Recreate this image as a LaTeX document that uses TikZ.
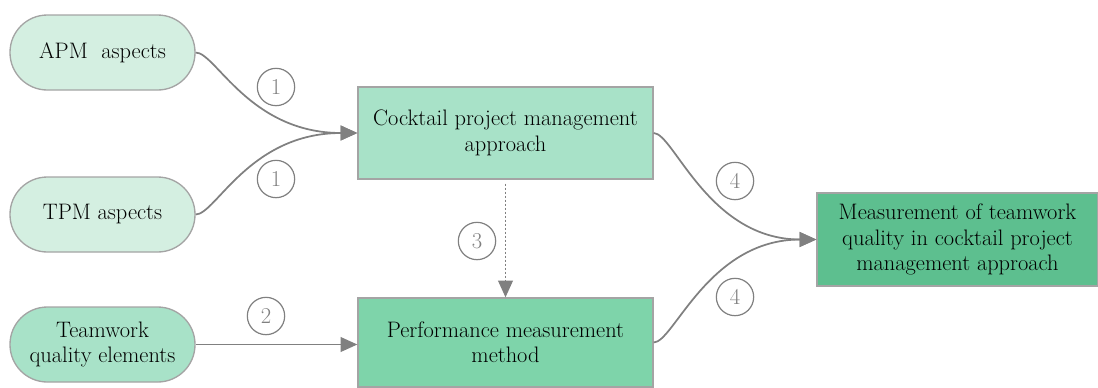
\documentclass[tikz,border=0pt]{standalone}
\usetikzlibrary{arrows.meta}
\definecolor{edge}{HTML}{A4A4A4}
\definecolor{wire}{HTML}{808080}
\definecolor{paleMint}{HTML}{D4EFE1}
\definecolor{softMint}{HTML}{A8E2C8}
\definecolor{midMint}{HTML}{7ED4AA}
\definecolor{deepMint}{HTML}{5DBF8F}
\begin{document}
\begin{tikzpicture}[x=0.75pt,y=-0.75pt,
  font=\fontsize{16.8}{19}\selectfont,
  pill/.style={draw=edge, line width=1pt, rounded corners=28pt,
    minimum width=138.75pt, minimum height=56.25pt, align=center, inner sep=1pt},
  box/.style={draw=edge, line width=1pt, minimum width=221.25pt,
    minimum height=69pt, align=center, inner sep=1pt},
  flow/.style={draw=wire, line width=1.3pt, -{Triangle[length=12.5pt,width=11pt]}},
  hint/.style={draw=wire, line width=1.2pt, dash pattern=on 1.6pt off 1.4pt,
    -{Triangle[length=12.5pt,width=11pt]}},
  num/.style={circle, draw=wire, line width=0.9pt, minimum size=28pt,
    inner sep=0pt, text=wire, font=\fontsize{17}{19}\selectfont}]
\useasboundingbox (0,0) rectangle (1098,387);

% source ovals
\node[pill, fill=paleMint] (apm) at (102.5,52.5) {APM~ aspects};
\node[pill, fill=paleMint] (tpm) at (102.5,214.5) {TPM aspects};
\node[pill, fill=softMint] (tq) at (102.5,344.5) {Teamwork\\quality elements};

% process boxes
\node[box, fill=softMint] (cpm) at (505.5,133) {Cocktail project management\\approach};
\node[box, fill=midMint, minimum height=66.75pt] (perf) at (505.5,342.5) {Performance measurement\\method};
\node[box, fill=deepMint, minimum width=210.75pt, minimum height=69.75pt] (meas) at (957.5,239.5)
  {Measurement of teamwork\\quality in cocktail project\\management approach};

% connectors
\draw[flow] (apm.east) .. controls +(20,0) and +(-108,0) .. (cpm.west);
\draw[flow] (tpm.east) .. controls +(20,0) and +(-108,0) .. (cpm.west);
\draw[flow] (tq.east) -- (tq.east -| perf.west);
\draw[hint] ([yshift=-3pt]cpm.south) -- (perf.north);
\draw[flow] (cpm.east) .. controls +(20,0) and +(-108,0) .. (meas.west);
\draw[flow] (perf.east) .. controls +(20,0) and +(-108,0) .. (meas.west);

% step numbers
\node[num] (n1a) at (276,87) {1};
\node[num] (n1b) at (276,179) {1};
\node[num] (n2) at (266,316) {2};
\node[num] (n3) at (477,241) {3};
\node[num] (n4a) at (735,181) {4};
\node[num] (n4b) at (735,297) {4};
\end{tikzpicture}
\end{document}
